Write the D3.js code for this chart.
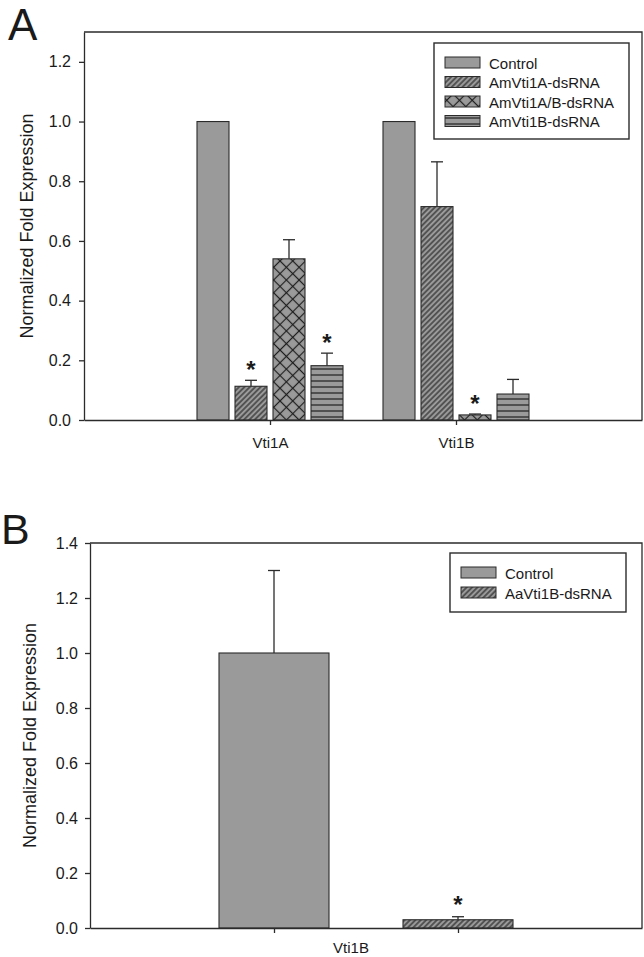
<!DOCTYPE html>
<html>
<head>
<meta charset="utf-8">
<script src="https://cdn.jsdelivr.net/npm/d3@7"></script>
<style>
  body { margin: 0; background: #fff; }
  text { font-family: "Liberation Sans", Arial, sans-serif; fill: #1a1a1a; }
</style>
</head>
<body>
<script>
// Panel A data: two genes, four treatments each
var groupsA = ["Vti1A", "Vti1B"];
var seriesA = ["Control", "AmVti1A-dsRNA", "AmVti1A/B-dsRNA", "AmVti1B-dsRNA"];
// one row per gene, one column per treatment
var valuesA = [[1.0, 0.113, 0.54, 0.182], [1.0, 0.715, 0.017, 0.087]];
var errorsA = [[0, 0.02, 0.064, 0.042], [0, 0.15, 0.003, 0.049]];
var starsA = [[false, true, false, true], [false, false, true, false]];
var ticksA = [0, 0.2, 0.4, 0.6, 0.8, 1.0, 1.2];

// Panel B data: one gene, two treatments
var groupB = "Vti1B";
var seriesB = ["Control", "AaVti1B-dsRNA"];
var valuesB = [1.0, 0.03];
var errorsB = [0.3, 0.011];
var starsB = [false, true];
var ticksB = [0, 0.2, 0.4, 0.6, 0.8, 1.0, 1.2, 1.4];

var svg_width = 644;
var svg_height = 957;
var ink = "#2b2b2b";
var gray = "#9a9a9a";

var svg = d3.select("body")
    .append("svg")
    .attr("width", svg_width)
    .attr("height", svg_height);

// hatch patterns, SigmaPlot style
var defs = svg.append("defs");

var diag = defs.append("pattern")
    .attr("id", "diag")
    .attr("patternUnits", "userSpaceOnUse")
    .attr("width", 3.8).attr("height", 3.8)
    .attr("patternTransform", "rotate(45)");
diag.append("rect").attr("width", 3.8).attr("height", 3.8).attr("fill", gray);
diag.append("line").attr("x1", 1.9).attr("x2", 1.9).attr("y1", 0).attr("y2", 3.8)
    .attr("stroke", "#1e1e1e").attr("stroke-width", 1.1);

var cross = defs.append("pattern")
    .attr("id", "cross")
    .attr("patternUnits", "userSpaceOnUse")
    .attr("width", 9).attr("height", 9)
    .attr("patternTransform", "rotate(45)");
cross.append("rect").attr("width", 9).attr("height", 9).attr("fill", gray);
cross.append("line").attr("x1", 4.5).attr("x2", 4.5).attr("y1", 0).attr("y2", 9)
    .attr("stroke", "#1e1e1e").attr("stroke-width", 1.2);
cross.append("line").attr("x1", 0).attr("x2", 9).attr("y1", 4.5).attr("y2", 4.5)
    .attr("stroke", "#1e1e1e").attr("stroke-width", 1.2);

var horiz = defs.append("pattern")
    .attr("id", "horiz")
    .attr("patternUnits", "userSpaceOnUse")
    .attr("width", 6).attr("height", 6);
horiz.append("rect").attr("width", 6).attr("height", 6).attr("fill", gray);
horiz.append("line").attr("x1", 0).attr("x2", 6).attr("y1", 3).attr("y2", 3)
    .attr("stroke", "#1e1e1e").attr("stroke-width", 1.2);

var fillA = [gray, "url(#diag)", "url(#cross)", "url(#horiz)"];
var fillB = [gray, "url(#diag)"];

// frame + y axis, shared by both panels
function drawFrame(box, y, ticks, pad, titleX) {
    var yAxis = svg.append("g")
        .attr("transform", "translate(" + box.left + ",0)")
        .call(d3.axisLeft(y).tickValues(ticks).tickFormat(d3.format(".1f"))
            .tickSize(5).tickSizeOuter(0).tickPadding(pad));
    yAxis.selectAll("path, line").attr("stroke", ink).attr("stroke-width", 1.3);
    yAxis.selectAll("text").attr("font-size", "16px").attr("fill", "#1a1a1a")
        .attr("font-family", "Liberation Sans, Arial, sans-serif");

    // top and right edges of the box
    svg.append("path")
        .attr("d", "M" + box.left + "," + box.top + "H" + box.right + "V" + box.bottom)
        .attr("fill", "none").attr("stroke", ink).attr("stroke-width", 1.3);

    svg.append("text")
        .attr("transform", "translate(" + titleX + "," + (box.top + box.bottom) / 2 + ") rotate(-90)")
        .attr("text-anchor", "middle")
        .attr("font-size", "18px")
        .text("Normalized Fold Expression");
}

function drawLegend(x, y, w, h, names, fills, rowGap) {
    var lg = svg.append("g").attr("transform", "translate(" + x + "," + y + ")");
    lg.append("rect").attr("width", w).attr("height", h)
        .attr("fill", "#fff").attr("stroke", ink).attr("stroke-width", 1.4);
    names.forEach(function(name, i) {
        lg.append("rect")
            .attr("x", 11).attr("y", 14 + i * rowGap)
            .attr("width", 35).attr("height", 11)
            .attr("fill", fills[i]).attr("stroke", ink).attr("stroke-width", 1);
        lg.append("text")
            .attr("x", 55).attr("y", 25.5 + i * rowGap)
            .attr("font-size", "15px")
            .text(name);
    });
}

function drawStar(x, yTop) {
    svg.append("text")
        .attr("x", x).attr("y", yTop + 8)
        .attr("text-anchor", "middle")
        .attr("font-size", "24px")
        .attr("font-weight", "bold")
        .text("*");
}

function drawErr(x, y0, y1) {
    svg.append("line").attr("x1", x).attr("x2", x).attr("y1", y0).attr("y2", y1)
        .attr("stroke", ink).attr("stroke-width", 1.3);
    svg.append("line").attr("x1", x - 6).attr("x2", x + 6).attr("y1", y1).attr("y2", y1)
        .attr("stroke", ink).attr("stroke-width", 1.3);
}

// ---------------- Panel A ----------------
var boxA = { left: 84, right: 642, top: 32, bottom: 420 };
var xA = d3.scalePoint().domain(groupsA).range([boxA.left, boxA.right]).padding(1);
var barA = d3.scaleBand().domain(seriesA).range([-73, 73]).paddingInner(0.158);
var yA = d3.scaleLinear().domain([0, 1.3]).range([boxA.bottom, boxA.top]);

svg.append("text").attr("x", 8).attr("y", 40).attr("font-size", "44px").text("A");

groupsA.forEach(function(g, gi) {
    seriesA.forEach(function(s, si) {
        var v = valuesA[gi][si];
        var e = errorsA[gi][si];
        var bx = xA(g) + barA(s);
        var cx = bx + barA.bandwidth() / 2;
        if (e > 0) drawErr(cx, yA(v), yA(v + e));
        svg.append("rect")
            .attr("x", bx).attr("y", yA(v))
            .attr("width", barA.bandwidth())
            .attr("height", yA(0) - yA(v))
            .attr("fill", fillA[si])
            .attr("stroke", ink).attr("stroke-width", 1.1);
        if (starsA[gi][si]) drawStar(cx, yA(v + e) - 10);
    });
});

var xAxisA = svg.append("g")
    .attr("transform", "translate(0," + boxA.bottom + ")")
    .call(d3.axisBottom(xA).tickSize(5).tickSizeOuter(0).tickPadding(12));
xAxisA.selectAll("path, line").attr("stroke", ink).attr("stroke-width", 1.3);
xAxisA.selectAll("text").attr("font-size", "15px").attr("fill", "#1a1a1a")
    .attr("font-family", "Liberation Sans, Arial, sans-serif");

drawFrame(boxA, yA, ticksA, 8, 33);
drawLegend(434, 43, 195, 96, seriesA, fillA, 19.5);

// ---------------- Panel B ----------------
var boxB = { left: 90, right: 642, top: 543, bottom: 928 };
var xB = d3.scalePoint().domain(seriesB).range([boxB.left, boxB.right]).padding(1);
var yB = d3.scaleLinear().domain([0, 1.4]).range([boxB.bottom, boxB.top]);
var barWB = 110;

svg.append("text").attr("x", 1).attr("y", 544).attr("font-size", "43px").text("B");

seriesB.forEach(function(s, si) {
    var v = valuesB[si];
    var e = errorsB[si];
    var cx = xB(s);
    drawErr(cx, yB(v), yB(v + e));
    svg.append("rect")
        .attr("x", cx - barWB / 2).attr("y", yB(v))
        .attr("width", barWB)
        .attr("height", yB(0) - yB(v))
        .attr("fill", fillB[si])
        .attr("stroke", ink).attr("stroke-width", 1.1);
    if (starsB[si]) drawStar(cx, yB(v + e) - 12);
});

var xAxisB = svg.append("g")
    .attr("transform", "translate(0," + boxB.bottom + ")")
    .call(d3.axisBottom(xB).tickSize(5).tickSizeOuter(0).tickFormat(""));
xAxisB.selectAll("path, line").attr("stroke", ink).attr("stroke-width", 1.3);

// the single gene label sits a little left of the middle in the original
svg.append("text")
    .attr("x", d3.mean(xB.range()) - 15)
    .attr("y", boxB.bottom + 25)
    .attr("text-anchor", "middle")
    .attr("font-size", "15px")
    .text(groupB);

drawFrame(boxB, yB, ticksB, 7, 36);
drawLegend(450, 553, 176, 59, seriesB, fillB, 20);
</script>
</body>
</html>
